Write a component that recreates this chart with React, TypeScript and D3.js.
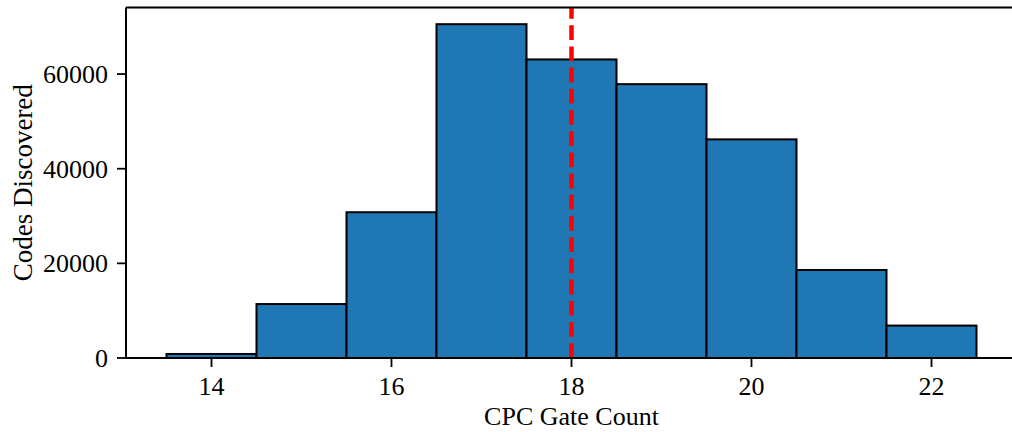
import React from "react";
import * as d3 from "d3";

// histogram of CPC gate counts (bin centers, width 1)
const gateCounts = [14, 15, 16, 17, 18, 19, 20, 21, 22];
const codesFound = [850, 11400, 30800, 70540, 63090, 57870, 46200, 18600, 6850];
const xTicks = [14, 16, 18, 20, 22];
const yTicks = [0, 20000, 40000, 60000];
const markerGate = 18;

const width = 1012;
const height = 432;
const margin = { top: 7.5, left: 126, bottom: 358, right: 1017 };
const font = "'Liberation Serif', 'Times New Roman', serif";

export default function App() {
  const x = d3
    .scaleLinear()
    .domain([13.05, 22.95])
    .range([margin.left, margin.right]);

  const yMax = d3.max(codesFound) * 1.05;
  const y = d3
    .scaleLinear()
    .domain([0, yMax])
    .range([margin.bottom, margin.top]);

  return (
    <div style={{ position: "fixed", left: 0, top: 0, width, height, background: "white" }}>
      <svg width={width} height={height} style={{ display: "block" }}>
        {/* bars */}
        {gateCounts.map((g, i) => (
          <rect
            key={g}
            x={x(g - 0.5)}
            y={y(codesFound[i])}
            width={x(g + 0.5) - x(g - 0.5)}
            height={y(0) - y(codesFound[i])}
            fill="#1f77b4"
            stroke="black"
            strokeWidth={2}
          />
        ))}

        {/* dashed marker */}
        <line
          x1={x(markerGate)}
          x2={x(markerGate)}
          y1={y(0)}
          y2={y(yMax)}
          stroke="#ff0000"
          strokeWidth={4.5}
          strokeDasharray="14.8 6.4"
        />

        {/* spines */}
        <g stroke="black" strokeWidth={2} fill="none">
          <line x1={margin.left} x2={width} y1={margin.bottom} y2={margin.bottom} />
          <line x1={margin.left} x2={width} y1={margin.top} y2={margin.top} />
          <line x1={margin.left} x2={margin.left} y1={margin.top} y2={margin.bottom} />
        </g>

        {/* x axis */}
        <g fontFamily={font} fontSize={26} fill="black">
          {xTicks.map((t) => (
            <g key={t} transform={`translate(${x(t)},0)`}>
              <line y1={margin.bottom} y2={margin.bottom + 9} stroke="black" strokeWidth={1.8} />
              <text y={395} textAnchor="middle">
                {t}
              </text>
            </g>
          ))}
          <text x={(margin.left + margin.right) / 2} y={425} textAnchor="middle" fontSize={26}>
            CPC Gate Count
          </text>
        </g>

        {/* y axis */}
        <g fontFamily={font} fontSize={26} fill="black">
          {yTicks.map((t) => (
            <g key={t} transform={`translate(0,${y(t)})`}>
              <line x1={margin.left - 9} x2={margin.left} stroke="black" strokeWidth={1.8} />
              <text x={108} dy="0.34em" textAnchor="end">
                {t}
              </text>
            </g>
          ))}
          <text
            transform={`translate(32,${(margin.top + margin.bottom) / 2}) rotate(-90)`}
            textAnchor="middle"
            fontSize={27}
          >
            Codes Discovered
          </text>
        </g>
      </svg>
    </div>
  );
}
